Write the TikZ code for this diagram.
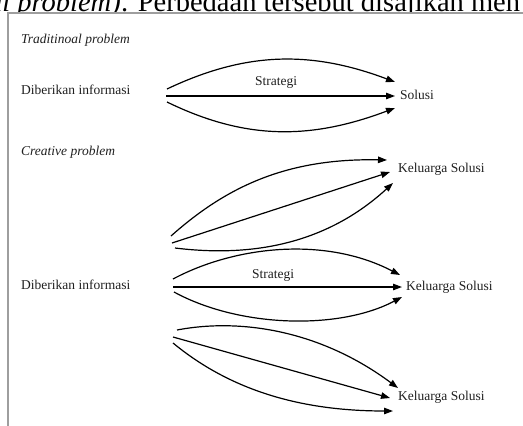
\documentclass[tikz,border=0pt]{standalone}
\usepackage{fontspec}
\setmainfont{Liberation Serif}
\usetikzlibrary{arrows.meta}
\begin{document}
\begin{tikzpicture}[x=1pt,y=-1pt,
  lbl/.style={inner sep=0pt, font=\fontsize{13.5}{15}\selectfont, text=black!88},
  conn/.style={line width=1.2pt, -{Triangle[length=9pt,width=6.5pt]}},
  frame/.style={draw=black!38, line width=1.6pt}]
\useasboundingbox (0,0) rectangle (523,426);
% partial running text above the figure
\begin{scope}
\clip (0,0) rectangle (523,12.6);
\node[anchor=base west, inner sep=0pt, font=\fontsize{28.5}{30}\selectfont] (runtext) at (121,11) {. Perbedaan tersebut disajikan men};
\node[anchor=base east, inner sep=0pt, font=\fontsize{28.5}{30}\selectfont\itshape] (runital) at (runtext.base west) {al problem)};
\end{scope}
% frame
\draw[frame] (8,426) -- (8,13) -- (523,13);
% texts
\node[lbl, font=\fontsize{13.5}{15}\selectfont\itshape, anchor=west] (trad) at (21,40) {Traditinoal problem};
\node[lbl, anchor=west] (info1) at (21,90) {Diberikan informasi};
\node[lbl] (strat1) at (276,82) {Strategi};
\node[lbl, anchor=west] (sol1) at (400,95) {Solusi};
\node[lbl, font=\fontsize{13.5}{15}\selectfont\itshape, anchor=west] (crea) at (21,152) {Creative problem};
\node[lbl, anchor=west] (kel1) at (398,169) {Keluarga Solusi};
\node[lbl, anchor=west] (info2) at (21,285) {Diberikan informasi};
\node[lbl] (strat2) at (273,275) {Strategi};
\node[lbl, anchor=west] (kel2) at (406,287) {Keluarga Solusi};
\node[lbl, anchor=west] (kel3) at (398,397) {Keluarga Solusi};
% coordinates
\coordinate (a1) at (167,89);  \coordinate (b1) at (395,82);
\coordinate (a2) at (166,96);  \coordinate (b2) at (395,96);
\coordinate (a3) at (167,102); \coordinate (b3) at (395,108);
\coordinate (c1) at (171,236); \coordinate (d1) at (387,160);
\coordinate (c2) at (172,243); \coordinate (d2) at (390,172);
\coordinate (c3) at (175,248); \coordinate (d3) at (393,183);
\coordinate (e1) at (173,279); \coordinate (f1) at (400,275);
\coordinate (e2) at (173,287); \coordinate (f2) at (402,287);
\coordinate (e3) at (174,292); \coordinate (f3) at (402,297);
\coordinate (g1) at (177,330); \coordinate (h1) at (398,388);
\coordinate (g2) at (173,337); \coordinate (h2) at (390,398);
\coordinate (g3) at (173,343); \coordinate (h3) at (393,411);
% traditional
\draw[conn] (a1) .. controls (245,52) and (310,50) .. (b1);
\draw[conn] (a2) -- (b2);
\draw[conn] (a3) .. controls (245,140) and (310,140) .. (b3);
% creative group 1
\draw[conn] (c1) .. controls (225,188) and (285,158) .. (d1);
\draw[conn] (c2) -- (d2);
\draw[conn] (c3) .. controls (240,256) and (320,250) .. (d3);
% creative group 2
\draw[conn] (e1) .. controls (235,246) and (325,236) .. (f1);
\draw[conn] (e2) -- (f2);
\draw[conn] (e3) .. controls (240,328) and (340,330) .. (f3);
% creative group 3
\draw[conn] (g1) .. controls (240,318) and (320,330) .. (h1);
\draw[conn] (g2) -- (h2);
\draw[conn] (g3) .. controls (230,390) and (300,411) .. (h3);
\end{tikzpicture}
\end{document}
